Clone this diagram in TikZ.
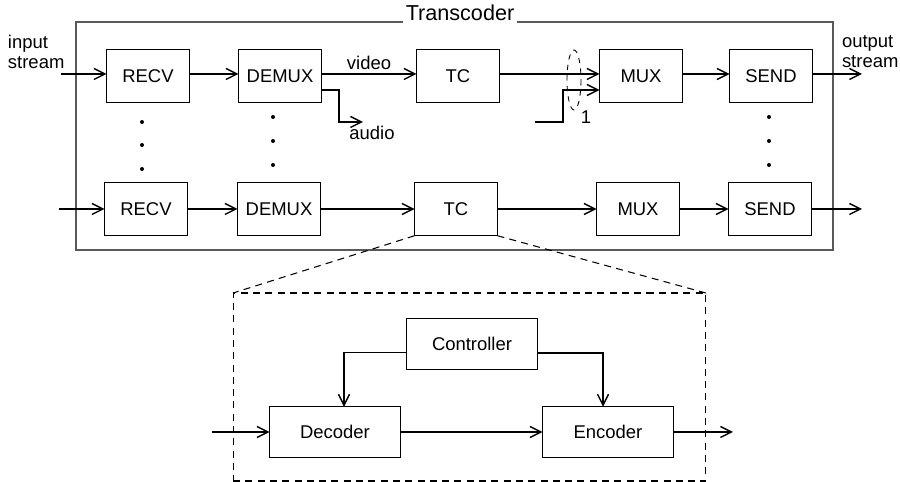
\documentclass[tikz,border=0pt]{standalone}
\usepackage{fontspec}
\setmainfont{Liberation Sans}
\usetikzlibrary{arrows.meta,calc}

\begin{document}
\begin{tikzpicture}[x=0.02cm,y=-0.02cm,outer sep=0pt,
  font=\fontsize{10.5}{11.5}\selectfont]
\tikzstyle{box}=[draw, line width=0.8pt, minimum width=1.66cm,
    text centered, minimum height=1.07cm, inner sep=0pt]
\tikzstyle{wide}=[box, minimum width=2.62cm, minimum height=1.01cm]
\tikzstyle{arr}=[line width=0.8pt, -{Straight Barb[length=2.2mm,width=2.2mm]}]
\tikzstyle{zoomline}=[line width=0.6pt, dash pattern=on 4pt off 3pt]
\useasboundingbox (0,0) rectangle (900,482);

    % the transcoder frame
    \draw[gray!70!black, line width=0.6pt] (76,22) rectangle (833,250);
    \node (title) [fill=white, inner sep=1.5pt, font=\fontsize{12.3}{14}\selectfont] at (460,13) {Transcoder};

    % first channel
    \node (recv1) [box] at (148,76) {RECV};
    \node (demux1) [box] at (280,76) {DEMUX};
    \node (tc1) [box] at (458,76) {TC};
    \node (mux1) [box] at (641,76) {MUX};
    \node (send1) [box] at (771,76) {SEND};
    % last channel
    \node (recv2) [box] at (146,209) {RECV};
    \node (demux2) [box] at (279,209) {DEMUX};
    \node (tc2) [box] at (456,209) {TC};
    \node (mux2) [box] at (638,209) {MUX};
    \node (send2) [box] at (770,209) {SEND};

    \node (instream) [anchor=west, align=left, inner sep=0pt] at (8,52) {input\\stream};
    \node (outstream) [anchor=west, align=left, inner sep=0pt] at (842,52) {output\\stream};

    \coordinate (in1) at (61,74);
    \coordinate (out1) at (862,74);
    \coordinate (in2) at (59,209);
    \coordinate (out2) at (862,209);

    \draw[arr] (in1) -- (in1 -| recv1.west);
    \draw[arr] (recv1.east |- in1) -- (demux1.west |- in1);
    \draw[arr] (demux1.east |- in1) -- node[above=-1pt] {video} (tc1.west |- in1);
    \draw[arr] (tc1.east |- in1) -- (mux1.west |- in1);
    \draw[arr] (mux1.east |- in1) -- (send1.west |- in1);
    \draw[arr] (send1.east |- in1) -- (out1);

    \draw[arr] (in2) -- (recv2);
    \draw[arr] (recv2) -- (demux2);
    \draw[arr] (demux2) -- (tc2);
    \draw[arr] (tc2) -- (mux2);
    \draw[arr] (mux2) -- (send2);
    \draw[arr] (send2) -- (out2);

    % audio branch
    \coordinate (audio) at (363,122);
    \draw[arr] (demux1.east |- 0,90) -| (339,122) -- (audio);
    \node (audiolbl) [anchor=north, inner sep=0pt] at (372,126) {audio};

    % second input of the muxer
    \coordinate (aux1) at (535,122);
    \coordinate (aux2) at (563,90);
    \draw[arr] (aux1) -| (aux2) -- (aux2 -| mux1.west);
    \draw[line width=0.5pt, dash pattern=on 3pt off 3pt] (574,80) ellipse [x radius=7, y radius=30];
    \node (one) [inner sep=0pt] at (586,117) {1};

    % dots between the rows
    \foreach \px/\py in {142/122, 142/145, 142/169, 273/117, 273/141, 273/165, 769/117, 769/141, 769/165}
        \fill (\px,\py) circle [radius=2];

    % inside of TC
    \node (tcin) [draw, zoomline, minimum width=9.46cm, minimum height=3.76cm] at (469.5,387) {};
    \draw[zoomline] (tc2.south west) -- (tcin.north west);
    \draw[zoomline] (tc2.south east) -- (tcin.north east);

    \node (ctrl) [wide] at (472,344) {Controller};
    \node (dec) [wide] at (335,432) {Decoder};
    \node (enc) [wide] at (608,432) {Encoder};

    \coordinate (decin) at (212,432);
    \coordinate (encout) at (733,432);
    \draw[arr] (decin) -- (dec);
    \draw[arr] (dec) -- (enc);
    \draw[arr] (enc) -- (encout);
    \draw[arr] ([yshift=-0.17cm]ctrl.west) -| ([xshift=0.18cm]dec.north);
    \draw[arr] ([yshift=-0.18cm]ctrl.east) -| ([xshift=-0.1cm]enc.north);
\end{tikzpicture}
\end{document}
